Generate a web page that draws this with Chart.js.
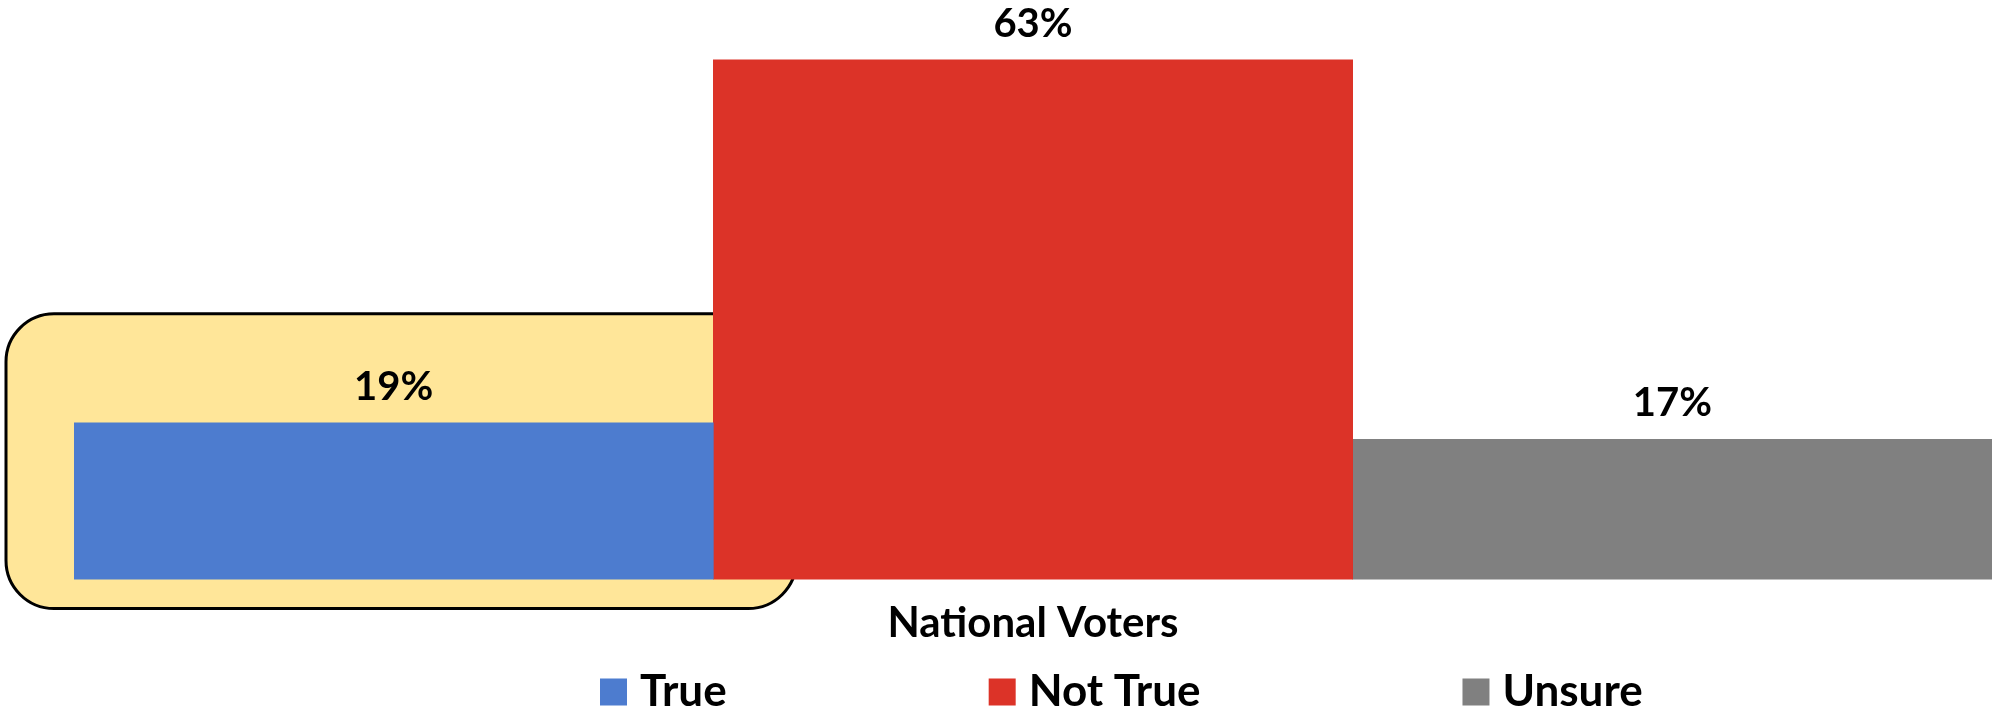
<!DOCTYPE html>
<html>
<head>
<meta charset="utf-8">
<title>National Voters</title>
<script src="https://cdn.jsdelivr.net/npm/chart.js@4"></script>
<style>
  html, body { margin: 0; padding: 0; background: #fff; }
  #wrap { width: 1992px; height: 714px; position: relative; }
</style>
</head>
<body>
<div id="wrap"><canvas id="chart"></canvas></div>
<script>
// ─── Données ────────────────────────────
const categories = ['National Voters'];
const seriesNames = ['True', 'Not True', 'Unsure'];
const trueValues = [19];
const notTrueValues = [63];
const unsureValues = [17];
const seriesColors = ['#4D7CCF', '#DC3328', '#808080'];

const FONT = 'Lato, "Open Sans", sans-serif';

// ─── Cadre jaune autour de la barre "True" ─
const highlightBox = {
  id: 'highlightBox',
  beforeDatasetsDraw(chart) {
    const bar = chart.getDatasetMeta(0).data[0];
    if (!bar) return;
    const ctx = chart.ctx;
    const left = bar.x - bar.width / 2 - 68;
    const right = bar.x + bar.width / 2 + 83;
    const top = bar.y - 109;
    const bottom = bar.base + 29;
    ctx.save();
    ctx.beginPath();
    ctx.roundRect(left, top, right - left, bottom - top, 48);
    ctx.fillStyle = '#FFE699';
    ctx.fill();
    ctx.lineWidth = 3;
    ctx.strokeStyle = '#000';
    ctx.stroke();
    ctx.restore();
  }
};

// ─── Étiquettes de valeurs ───────────────
const valueLabels = {
  id: 'valueLabels',
  afterDatasetsDraw(chart) {
    const ctx = chart.ctx;
    ctx.save();
    ctx.font = 'bold 40px ' + FONT;
    ctx.fillStyle = '#000';
    ctx.textAlign = 'center';
    ctx.textBaseline = 'middle';
    chart.data.datasets.forEach((ds, i) => {
      chart.getDatasetMeta(i).data.forEach((bar, j) => {
        ctx.fillText(ds.data[j] + '%', bar.x, bar.y - 36);
      });
    });
    ctx.restore();
  }
};

// ─── Légende personnalisée ───────────────
const bottomLegend = {
  id: 'bottomLegend',
  afterDraw(chart) {
    const ctx = chart.ctx;
    const y = 692;
    const box = 27;
    const gap = 262;
    let x = 600;
    ctx.save();
    ctx.font = 'bold 44px ' + FONT;
    ctx.textBaseline = 'middle';
    ctx.textAlign = 'left';
    chart.data.datasets.forEach(ds => {
      ctx.fillStyle = ds.backgroundColor;
      ctx.fillRect(x, y - box / 2, box, box);
      ctx.fillStyle = '#000';
      const tx = x + box + 13;
      ctx.fillText(ds.label, tx, y);
      x = tx + ctx.measureText(ds.label).width + gap;
    });
    ctx.restore();
  }
};

new Chart(document.getElementById('chart'), {
  type: 'bar',
  data: {
    labels: categories,
    datasets: [
      { label: seriesNames[0], data: trueValues, backgroundColor: seriesColors[0] },
      { label: seriesNames[1], data: notTrueValues, backgroundColor: seriesColors[1] },
      { label: seriesNames[2], data: unsureValues, backgroundColor: seriesColors[2] }
    ]
  },
  options: {
    responsive: true,
    maintainAspectRatio: false,
    animation: false,
    layout: { padding: { left: 74, right: 0, top: 2, bottom: 46 } },
    datasets: { bar: { barPercentage: 1, categoryPercentage: 1 } },
    plugins: {
      legend: { display: false },
      tooltip: { enabled: false }
    },
    scales: {
      x: {
        grid: { display: false, drawTicks: false },
        border: { display: false },
        ticks: {
          padding: 19,
          color: '#000',
          font: { family: FONT, size: 42, weight: 'bold', lineHeight: 1.2 }
        }
      },
      y: {
        display: false,
        min: 0,
        max: 70
      }
    }
  },
  plugins: [highlightBox, valueLabels, bottomLegend]
});
</script>
</body>
</html>
